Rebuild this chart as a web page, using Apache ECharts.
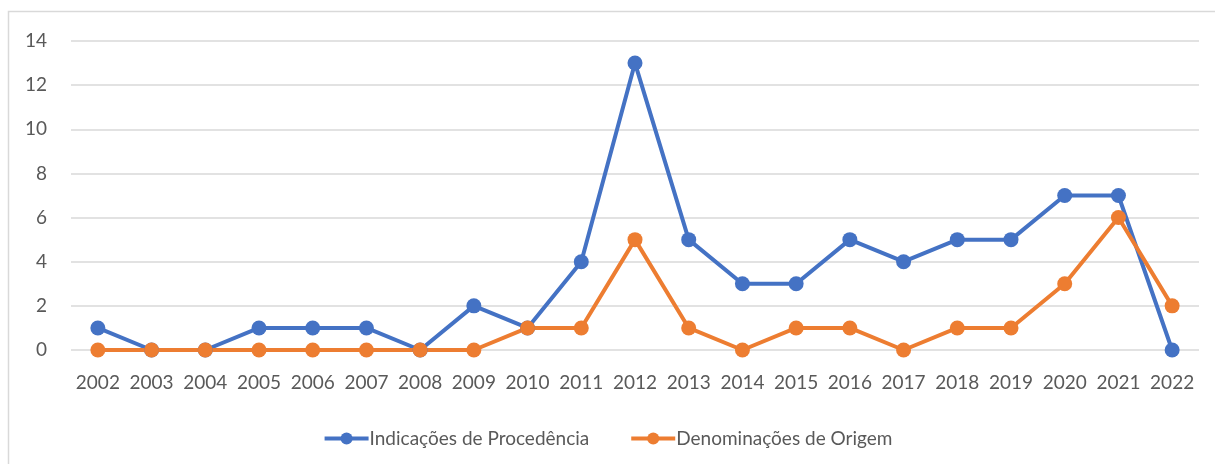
<!DOCTYPE html>
<html><head><meta charset="utf-8">
<script src="https://cdn.jsdelivr.net/npm/echarts@6/dist/echarts.min.js"></script>
<style>html,body{margin:0;padding:0;background:#fff}#c{width:1215px;height:464px}</style>
</head><body><div id="c"></div>
<script>
const years = ['2002','2003','2004','2005','2006','2007','2008','2009','2010','2011','2012','2013','2014','2015','2016','2017','2018','2019','2020','2021','2022'];
const indicacoes = [1,0,0,1,1,1,0,2,1,4,13,5,3,3,5,4,5,5,7,7,0];
const denominacoes = [0,0,0,0,0,0,0,0,1,1,5,1,0,1,1,0,1,1,3,6,2];
const seriesNames = ['Indicações de Procedência','Denominações de Origem'];
const FONT = 'Lato, "Open Sans", sans-serif';
const chart = echarts.init(document.getElementById('c'));
chart.setOption({
  animation:false,
  graphic:[{type:'rect',shape:{x:8.5,y:11.5,width:1230,height:480},style:{fill:'none',stroke:'#d9d9d9',lineWidth:1.5},silent:true}],
  grid:{left:71,right:16,top:41,bottom:114},
  legend:{top:424,left:'center',itemWidth:44,itemHeight:15,itemGap:40,
    lineStyle:{width:4},
    textStyle:{fontFamily:FONT,fontSize:19,color:'#595959',padding:[0,0,0,-4]},
    data:seriesNames},
  xAxis:{type:'category',data:years,boundaryGap:true,
    axisLine:{show:false},axisTick:{show:false},
    axisLabel:{interval:0,hideOverlap:false,fontFamily:FONT,fontSize:19,color:'#595959',margin:23}},
  yAxis:{type:'value',min:0,max:14,interval:2,
    axisLine:{show:false},axisTick:{show:false},
    splitLine:{lineStyle:{color:'#d9d9d9',width:1.5}},
    axisLabel:{fontFamily:FONT,fontSize:19,color:'#595959',margin:24}},
  series:[
    {name:seriesNames[0],type:'line',data:indicacoes,symbol:'circle',symbolSize:15,
      lineStyle:{color:'#4472C4',width:4},itemStyle:{color:'#4472C4'}},
    {name:seriesNames[1],type:'line',data:denominacoes,symbol:'circle',symbolSize:15,
      lineStyle:{color:'#ED7D31',width:4},itemStyle:{color:'#ED7D31'}}
  ]
});
</script></body></html>
